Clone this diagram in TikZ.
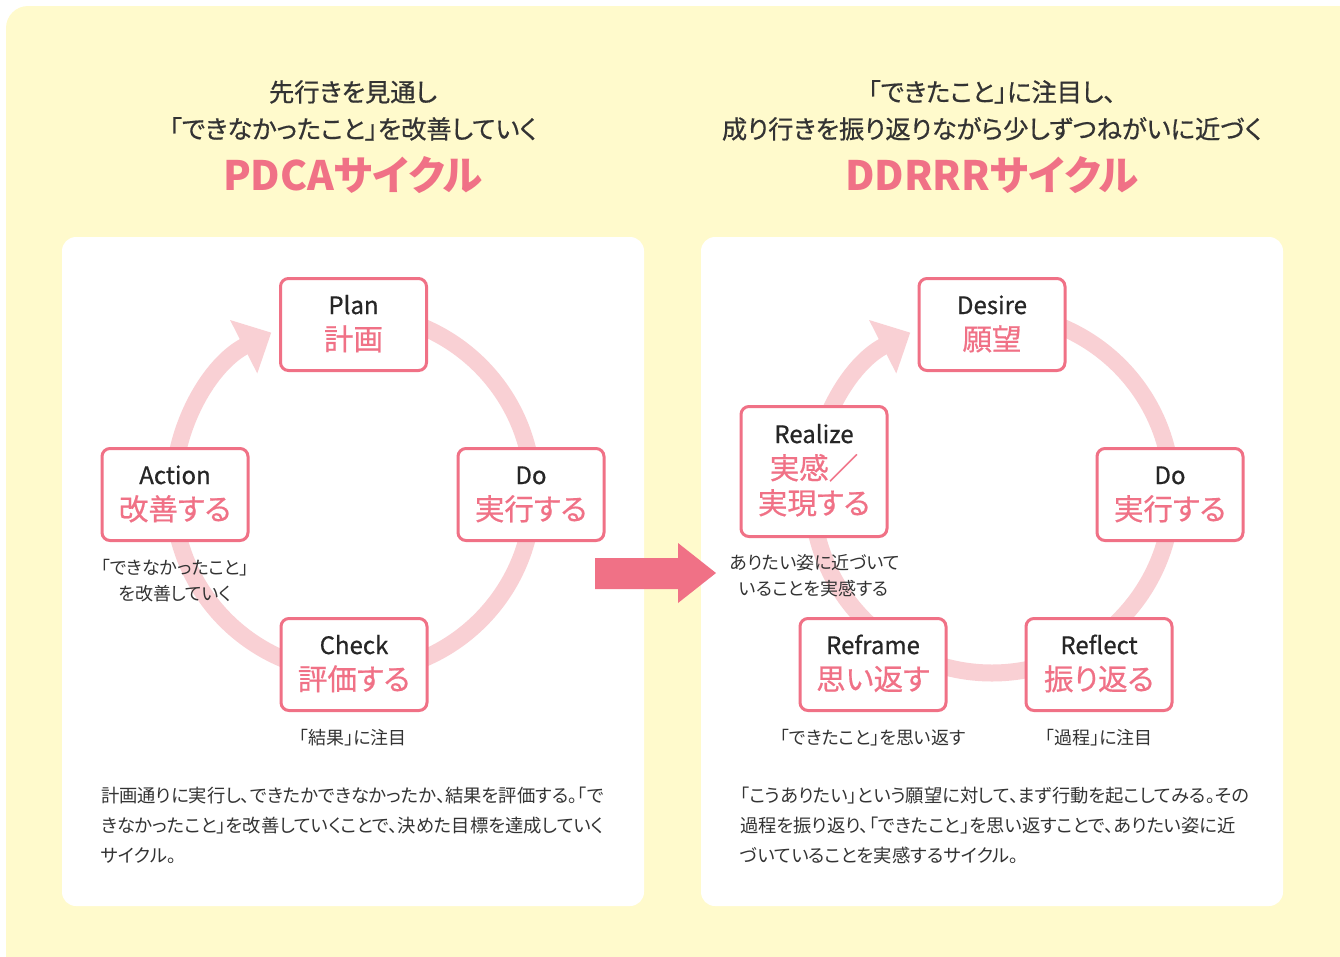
\documentclass[tikz,border=0pt]{standalone}
\usepackage{fontspec}
\setmainfont{Noto Sans CJK JP}[RawFeature=+palt]
\newfontfamily\medfont{Noto Sans CJK JP}[RawFeature=+palt, FakeBold=0.6]
\usetikzlibrary{arrows.meta,calc}
\definecolor{bgY}{HTML}{FFFACC}
\definecolor{pk}{HTML}{F07186}
\definecolor{ringc}{HTML}{F9D0D4}
\definecolor{txt}{HTML}{333333}
\begin{document}
\begin{tikzpicture}[x=1pt,y=-1pt,
  box/.style={draw=pk, line width=3pt, rounded corners=8pt, fill=white, minimum width=146pt, minimum height=92pt, inner sep=0pt},
  en/.style={anchor=base, inner sep=0pt, font=\medfont\fontsize{24}{24}\selectfont, text=black!85},
  ja/.style={anchor=base, inner sep=0pt, font=\medfont\fontsize{29.5}{29.5}\selectfont, text=pk},
  lab/.style={anchor=base, inner sep=0pt, font=\fontsize{18}{18}\selectfont, text=txt},
  para/.style={anchor=base west, inner sep=0pt, font=\fontsize{18.3}{18.3}\selectfont, text=txt},
  ttl/.style={anchor=base, inner sep=0pt, font=\medfont\fontsize{25.3}{25.3}\selectfont, text=txt},
  big/.style={anchor=base, inner sep=0pt, font=\fontsize{40.5}{40.5}\selectfont\bfseries, text=pk},
  ring/.style={draw=ringc, line width=17pt, -{Triangle[width=58pt,length=31pt]}},
  panel/.style={fill=white, rounded corners=14pt}
]
\useasboundingbox (0,0) rectangle (1340,956);
\clip (0,0) rectangle (1340,956);
\fill[bgY, rounded corners=22pt] (6,6) rectangle (1370,990);
\fill[panel] (62,237) rectangle (644,906);
\fill[panel] (701,237) rectangle (1283,906);

% titles
\node[ttl] (tl1) at (353,101.5) {先行きを見通し};
\node[ttl] (tl2) at (353,138.5) {「できなかったこと」を改善していく};
\node[big] (tl3) at (353,190) {PDCAサイクル};
\node[ttl] (tr1) at (992,101.5) {「できたこと」に注目し、};
\node[ttl] (tr2) at (992,138.5) {成り行きを振り返りながら少しずつねがいに近づく};
\node[big] (tr3) at (992,190) {DDRRRサイクル};

% rings
\coordinate (cL) at (353,493);
\coordinate (cR) at (992,493);
\draw[ring] ([shift={(-90:180)}]cL) arc[start angle=-90, end angle=243, radius=180];
\draw[ring] ([shift={(-90:180)}]cR) arc[start angle=-90, end angle=243, radius=180];

% PDCA nodes
\node[box] (plan) at (353.5,324.5) {};
\node[box] (do) at (531,494.5) {};
\node[box] (check) at (354,664.5) {};
\node[box] (act) at (175,494.5) {};
\foreach \n/\e/\j in {plan/Plan/計画, do/Do/実行する, check/Check/評価する, act/Action/改善する}{
  \node[en] (\n E) at ($(\n.north)+(0,37)$) {\e};
  \node[ja] (\n J) at ($(\n.north)+(0,73)$) {\j};
}
% DDRRR nodes
\node[box] (des) at (992,324.5) {};
\node[box] (ddo) at (1170,494.5) {};
\node[box] (refl) at (1099,664.5) {};
\node[box] (refr) at (873,664.5) {};
\node[box, minimum height=130pt] (real) at (814,471.5) {};
\foreach \n/\e/\j in {des/Desire/願望, ddo/Do/実行する, refl/Reflect/振り返る, refr/Reframe/思い返す}{
  \node[en] (\n E) at ($(\n.north)+(0,37)$) {\e};
  \node[ja] (\n J) at ($(\n.north)+(0,73)$) {\j};
}
\node[en] (realE) at ($(real.north)+(0,38)$) {Realize};
\node[ja] (realJ1) at ($(real.north)+(0,74)$) {実感／};
\node[ja] (realJ2) at ($(real.north)+(0,109)$) {実現する};

% labels
\node[lab] (la1) at (175,574) {「できなかったこと」};
\node[lab] (la2) at (175,600.5) {を改善していく};
\node[lab] (lc) at (353,744.5) {「結果」に注目};
\node[lab] (lr1) at (815,569.5) {ありたい姿に近づいて};
\node[lab] (lr2) at (814,595.5) {いることを実感する};
\node[lab] (lrf) at (873,744.5) {「できたこと」を思い返す};
\node[lab] (lrl) at (1099,744.5) {「過程」に注目};

% paragraphs
\node[para] (p1) at (101,802) {計画通りに実行し、できたかできなかったか、結果を評価する。「で};
\node[para] (p2) at (101,832) {きなかったこと」を改善していくことで、決めた目標を達成していく};
\node[para] (p3) at (101,862) {サイクル。};
\node[para] (q1) at (740,802) {「こうありたい」という願望に対して、まず行動を起こしてみる。その};
\node[para] (q2) at (740,832) {過程を振り返り、「できたこと」を思い返すことで、ありたい姿に近};
\node[para] (q3) at (740,862) {づいていることを実感するサイクル。};

% big arrow
\fill[pk] (595,558) -- (678,558) -- (678,543) -- (716,573) -- (678,603) -- (678,589) -- (595,589) -- cycle;
\end{tikzpicture}
\end{document}
